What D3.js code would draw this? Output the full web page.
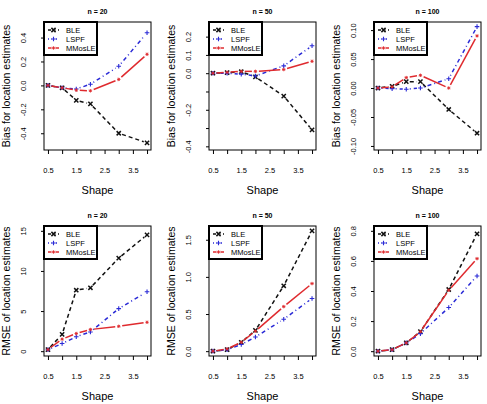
<!DOCTYPE html>
<html><head><meta charset="utf-8">
<script src="https://cdn.jsdelivr.net/npm/d3@7"></script>
<style>body{margin:0;background:#fff}svg{display:block}text{font-family:"Liberation Sans",Arial,sans-serif}</style>
</head><body><svg id="c" width="487" height="404"></svg>
<script>
const shapes = [0.5, 1, 1.5, 2, 3, 4];
const xTicks = [0.5, 1, 1.5, 2, 2.5, 3, 3.5, 4];
const xTickLabels = [0.5, 1.5, 2.5, 3.5];
const seriesNames = ["BLE", "LSPF", "MMosLE"];

const bias20_BLE = [0, -0.02, -0.125, -0.155, -0.40, -0.48];
const bias20_LSPF = [0, -0.02, -0.03, 0.01, 0.16, 0.44];
const bias20_MMosLE = [0, -0.02, -0.04, -0.045, 0.05, 0.26];
const bias50_BLE = [0, 0.003, 0.008, -0.02, -0.125, -0.31];
const bias50_LSPF = [0, 0, -0.005, -0.015, 0.04, 0.15];
const bias50_MMosLE = [0, 0.005, 0.01, 0.01, 0.02, 0.065];
const bias100_BLE = [0, 0.003, 0.011, 0.011, -0.037, -0.078];
const bias100_LSPF = [0, -0.001, -0.002, 0, 0.016, 0.106];
const bias100_MMosLE = [0, 0.002, 0.018, 0.022, 0, 0.09];
const rmse20_BLE = [0.2, 2.1, 7.6, 7.9, 11.6, 14.5];
const rmse20_LSPF = [0.2, 0.95, 1.8, 2.4, 5.3, 7.4];
const rmse20_MMosLE = [0.2, 1.5, 2.2, 2.7, 3.1, 3.6];
const rmse50_BLE = [0, 0.02, 0.12, 0.28, 0.88, 1.62];
const rmse50_LSPF = [0, 0.02, 0.09, 0.19, 0.43, 0.71];
const rmse50_MMosLE = [0, 0.03, 0.12, 0.27, 0.6, 0.91];
const rmse100_BLE = [0, 0.01, 0.055, 0.13, 0.41, 0.78];
const rmse100_LSPF = [0, 0.01, 0.055, 0.117, 0.29, 0.5];
const rmse100_MMosLE = [0, 0.01, 0.055, 0.13, 0.405, 0.615];

const yTicks_b20 = [-0.4, -0.2, 0, 0.2, 0.4];
const yLabels_b20 = ["-0.4", "-0.2", "0.0", "0.2", "0.4"];
const yTicks_b50 = [-0.4, -0.3, -0.2, -0.1, 0, 0.1, 0.2];
const yLabels_b50 = ["-0.4", "", "-0.2", "", "0.0", "0.1", "0.2"];
const yTicks_b100 = [-0.1, -0.05, 0, 0.05, 0.1];
const yLabels_b100 = ["-0.10", "-0.05", "0.00", "0.05", "0.10"];
const yTicks_r20 = [0, 5, 10, 15];
const yLabels_r20 = ["0", "5", "10", "15"];
const yTicks_r50 = [0, 0.5, 1, 1.5];
const yLabels_r50 = ["0.0", "0.5", "1.0", "1.5"];
const yTicks_r100 = [0, 0.2, 0.4, 0.6, 0.8];
const yLabels_r100 = ["0.0", "0.2", "0.4", "0.6", "0.8"];

const titles = ["n = 20", "n = 50", "n = 100"];
const yTitles = ["Bias for location estimates", "RMSE of location estimates"];

const panels = [
  {row:0, col:0, s:[bias20_BLE, bias20_LSPF, bias20_MMosLE], dom:[-0.54, 0.53], t:yTicks_b20, l:yLabels_b20},
  {row:0, col:1, s:[bias50_BLE, bias50_LSPF, bias50_MMosLE], dom:[-0.42, 0.28], t:yTicks_b50, l:yLabels_b50},
  {row:0, col:2, s:[bias100_BLE, bias100_LSPF, bias100_MMosLE], dom:[-0.107, 0.114], t:yTicks_b100, l:yLabels_b100},
  {row:1, col:0, s:[rmse20_BLE, rmse20_LSPF, rmse20_MMosLE], dom:[-0.6, 15.6], t:yTicks_r20, l:yLabels_r20},
  {row:1, col:1, s:[rmse50_BLE, rmse50_LSPF, rmse50_MMosLE], dom:[-0.065, 1.685], t:yTicks_r50, l:yLabels_r50},
  {row:1, col:2, s:[rmse100_BLE, rmse100_LSPF, rmse100_MMosLE], dom:[-0.032, 0.832], t:yTicks_r100, l:yLabels_r100}
];

const colLeft = [44, 209, 374], boxW = 107;
const rowTop = [22, 226], boxH = [128, 130];
const colors = ["#111", "#2a2ad6", "#df2a2e"];
const dashes = ["4,3", "1,3,4,3", null];
const svg = d3.select("#c");

function drawPoint(g, k, x, y) {
  const c = colors[k];
  if (k === 0) {
    const r = 2.1;
    g.append("path").attr("d", `M${x-r},${y-r}L${x+r},${y+r}M${x-r},${y+r}L${x+r},${y-r}`)
      .attr("stroke", c).attr("stroke-width", 1.5).attr("fill", "none");
  } else if (k === 1) {
    const r = 2.3;
    g.append("path").attr("d", `M${x-r},${y}L${x+r},${y}M${x},${y-r}L${x},${y+r}`)
      .attr("stroke", c).attr("stroke-width", 1.1).attr("fill", "none");
  } else {
    const r = 1.7, d = 1.2;
    g.append("path").attr("d", `M${x-r},${y}L${x+r},${y}M${x},${y-r}L${x},${y+r}M${x-d},${y-d}L${x+d},${y+d}M${x-d},${y+d}L${x+d},${y-d}`)
      .attr("stroke", c).attr("stroke-width", 0.9).attr("fill", "none");
  }
}

panels.forEach(p => {
  const x0 = colLeft[p.col], y0 = rowTop[p.row], h = boxH[p.row];
  const x = d3.scaleLinear().domain([0.5 - 0.14, 4 + 0.14]).range([x0, x0 + boxW]);
  const y = d3.scaleLinear().domain(p.dom).range([y0 + h, y0]);
  const g = svg.append("g");

  g.append("text").attr("x", x0 + boxW / 2).attr("y", y0 - 8).attr("text-anchor", "middle")
    .attr("font-size", 7).attr("font-weight", "bold").text(titles[p.col]);

  const xa = g.append("g").attr("transform", `translate(0,${y0 + h})`)
    .call(d3.axisBottom(x).tickValues(xTicks).tickSize(4).tickFormat(d => xTickLabels.includes(d) ? d3.format(".1f")(d) : ""));
  xa.select(".domain").remove();
  xa.selectAll("line").attr("stroke", "#000");
  xa.selectAll("text").attr("y", 18).attr("font-size", 7.5).attr("fill", "#000").attr("font-family", "Liberation Sans, Arial");

  const ya = g.append("g").attr("transform", `translate(${x0},0)`)
    .call(d3.axisLeft(y).tickValues(p.t).tickSize(3).tickFormat((d, i) => p.l[i]));
  ya.select(".domain").remove();
  ya.selectAll("line").attr("stroke", "#000");
  ya.selectAll("text").attr("x", 0).attr("dy", 0).attr("font-size", 7.5).attr("fill", "#000")
    .attr("font-family", "Liberation Sans, Arial")
    .attr("text-anchor", "middle")
    .attr("transform", "translate(-18,0) rotate(-90)");

  g.append("text").attr("x", x0 + boxW / 2).attr("y", y0 + h + 44).attr("text-anchor", "middle")
    .attr("font-size", 11).text("Shape");
  g.append("text").attr("transform", `translate(${x0 - 34},${y0 + h / 2}) rotate(-90)`)
    .attr("text-anchor", "middle").attr("font-size", 10.5).text(yTitles[p.row]);

  const gap = 3.5;
  p.s.forEach((vals, k) => {
    const pts = shapes.map((s, i) => [x(s), y(vals[i])]);
    for (let i = 0; i < pts.length - 1; i++) {
      const [ax, ay] = pts[i], [bx, by] = pts[i + 1];
      const L = Math.hypot(bx - ax, by - ay);
      if (L <= 2 * gap) continue;
      const ux = (bx - ax) / L, uy = (by - ay) / L;
      const seg = g.append("line")
        .attr("x1", ax + ux * gap).attr("y1", ay + uy * gap)
        .attr("x2", bx - ux * gap).attr("y2", by - uy * gap)
        .attr("stroke", colors[k]).attr("stroke-width", 1.5);
      if (dashes[k]) seg.attr("stroke-dasharray", dashes[k]);
    }
    pts.forEach(([px, py]) => drawPoint(g, k, px, py));
  });

  g.append("rect").attr("x", x0).attr("y", y0).attr("width", boxW).attr("height", h)
    .attr("fill", "none").attr("stroke", "#000").attr("stroke-width", 1);

  const lg = g.append("g");
  const lw = 53, lh = 33;
  lg.append("rect").attr("x", x0).attr("y", y0).attr("width", lw).attr("height", lh)
    .attr("fill", "#fff").attr("stroke", "#000").attr("stroke-width", 2);
  seriesNames.forEach((name, k) => {
    const ly = y0 + 8 + k * 9;
    const l = lg.append("line").attr("x1", x0 + 4).attr("x2", x0 + 15).attr("y1", ly).attr("y2", ly)
      .attr("stroke", colors[k]).attr("stroke-width", 1.5);
    if (dashes[k]) l.attr("stroke-dasharray", k === 0 ? "3,2" : "1,2,3,2");
    lg.append("rect").attr("x", x0 + 7.5).attr("y", ly - 2.5).attr("width", 4).attr("height", 5).attr("fill", "#fff");
    drawPoint(lg, k, x0 + 9.5, ly);
    lg.append("text").attr("x", x0 + 22).attr("y", ly + 2.7).attr("font-size", 7.5).text(name);
  });
});
</script></body></html>
